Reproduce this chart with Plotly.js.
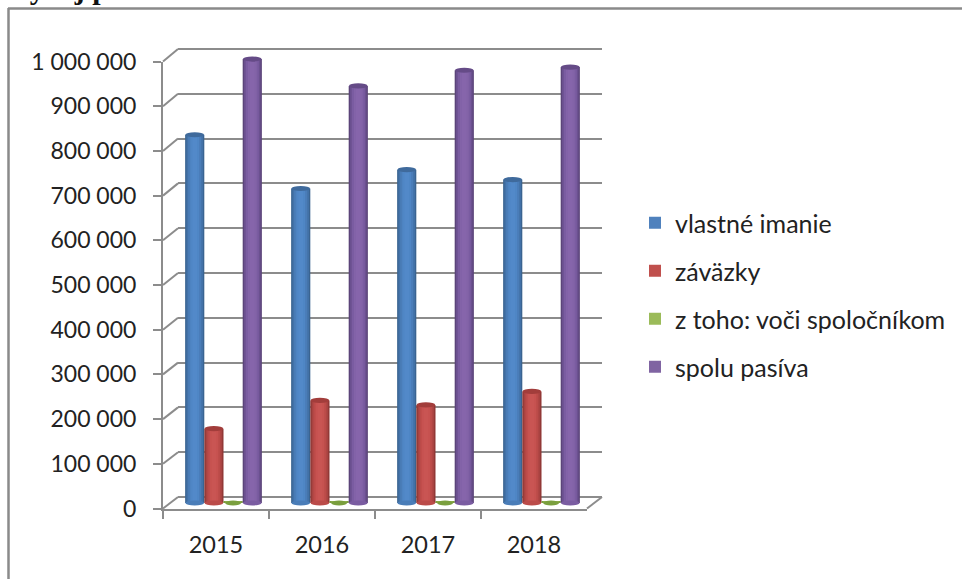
<!DOCTYPE html>
<html>
<head>
<meta charset="utf-8">
<script src="https://cdn.plot.ly/plotly-3.0.1.min.js"></script>
<style>html,body{margin:0;padding:0;background:#fff;overflow:hidden}#c{width:962px;height:579px}</style>
</head>
<body>
<div id="c"></div>
<script>
var years = ['2015','2016','2017','2018'];
var seriesNames = ['vlastné imanie','záväzky','z toho: voči spoločníkom','spolu pasíva'];
var vlastneImanie = [822000,702000,744000,722000];
var zavazky = [166000,229000,219000,249000];
var vociSpolocnikom = [3000,3000,3000,3000];
var spoluPasiva = [991000,931000,966000,973000];
var tickVals = [0,100000,200000,300000,400000,500000,600000,700000,800000,900000,1000000];
var tickText = ['0','100 000','200 000','300 000','400 000','500 000','600 000','700 000','800 000','900 000','1 000 000'];
var titleText = 'Vývoj pasív';

var W = 962, H = 579;
var GRID = '#8c8c8c';
var FONT = 'Lato, "Open Sans", sans-serif';
var TXT = '#222222';
// colour steps of each cylinder, outer edge to centre
var shades = [
  ['#3a6491','#4372a8','#4a7db8','#4f86c5','#5289c9'],
  ['#8f3735','#a84341','#bb4b49','#c65250','#c95553'],
  ['#7a9a3f','#8aaa48','#9abb59','#9dbe5c','#9dbe5c'],
  ['#5b4479','#6b5190','#7a5ca1','#8363a8','#8665ab']
];
var capColors = ['#3f6a9c','#a23d3b','#7a9f3e','#654b87'];
var legendColors = ['#4f81bd','#c0504d','#9bbb59','#8064a2'];
var layerWidths = [1, 0.86, 0.68, 0.46, 0.24];
var allSeries = [vlastneImanie, zavazky, vociSpolocnikom, spoluPasiva];

var barW = 0.181;           // category units
var pxY = 1000000/448;      // value per pixel on the bar axis
var traces = [];
var shapes = [];

function px(v){return v/W;}
function py(v){return 1-v/H;}

traces.push({type:'scatter',x:years,y:[null,null,null,null],xaxis:'x',yaxis:'y',showlegend:false,hoverinfo:'skip'});
traces.push({type:'scatter',x:[0],y:[null],xaxis:'x2',yaxis:'y2',showlegend:false,hoverinfo:'skip'});

allSeries.forEach(function(vals,s){
  var centre = (s-1.5)*barW;
  layerWidths.forEach(function(f,l){
    var w = barW*f;
    traces.push({
      type:'bar', x:[0,1,2,3], y:vals, xaxis:'x3', yaxis:'y3',
      width:[w,w,w,w], offset:[centre-w/2,centre-w/2,centre-w/2,centre-w/2],
      name:seriesNames[s], legendgroup:'g'+s, showlegend:false,
      marker:{color:shades[s][l],line:{width:0}}, hoverinfo: l===0?'y+name':'skip'
    });
  });
  // legend entry only: zero-size bar with the flat legend colour
  traces.push({type:'bar',x:[0],y:[0],xaxis:'x3',yaxis:'y3',width:[0.0001],name:seriesNames[s],
    legendgroup:'g'+s,showlegend:true,marker:{color:legendColors[s],line:{width:0}},hoverinfo:'skip'});
  vals.forEach(function(v,i){
    var cx = i+centre, rx = barW/2*0.97;
    var isThin = v < 20000;
    shapes.push({type:'circle',layer:'above',xref:'x3',yref:'y3',
      x0:cx-rx*(isThin?0.85:1),x1:cx+rx*(isThin?0.85:1),
      y0:(isThin?-2.6:-2.4)*pxY,y1:(isThin?2.6:2.4)*pxY,
      fillcolor:isThin?capColors[s]:shades[s][2],line:{width:0}});
    if(!isThin){
      shapes.push({type:'circle',layer:'above',xref:'x3',yref:'y3',
        x0:cx-rx,x1:cx+rx,y0:v-2.6*pxY,y1:v+2.6*pxY,
        fillcolor:capColors[s],line:{width:0}});
    }
  });
});

// side wall and floor connectors, from the front axis to the back wall
var frontL=163, frontR=587, backL=178, backR=602;
var front0=508.5, front1=61.5, back0=497, back1=49;
var backPad=0.01;  // margin of the back-wall axis so its first and last gridlines are kept
var backSpan=(back0-back1)*backPad;
tickVals.forEach(function(v){
  var t=v/1000000;
  shapes.push({type:'line',layer:'below',xref:'paper',yref:'paper',
    x0:px(frontL),x1:px(backL),
    y0:py(front0+(front1-front0)*t),y1:py(back0+(back1-back0)*t),
    line:{color:GRID,width:2}});
});
shapes.push({type:'line',layer:'below',xref:'paper',yref:'paper',
  x0:px(frontR),x1:px(backR),y0:py(front0),y1:py(back0),line:{color:GRID,width:2}});
// frame of the clipped scan
shapes.push({type:'line',layer:'below',xref:'paper',yref:'paper',x0:px(8),x1:1,y0:py(8.5),y1:py(8.5),line:{color:'#8a8a8a',width:2.5}});
shapes.push({type:'line',layer:'below',xref:'paper',yref:'paper',x0:px(8.5),x1:px(8.5),y0:py(8),y1:0,line:{color:'#8a8a8a',width:2.5}});

var barPadPx = 6;  // room under the zero line so the cylinders' round bases are not clipped
var layout = {
  width:W,height:H,margin:{l:0,r:0,t:0,b:0},paper_bgcolor:'#fff',plot_bgcolor:'rgba(0,0,0,0)',
  barmode:'overlay',showlegend:true,
  font:{family:FONT,color:TXT,size:22},
  // front axes: ticks and labels
  xaxis:{type:'category',categoryorder:'array',categoryarray:years,tickson:'boundaries',range:[-0.5,3.5],domain:[px(frontL),px(frontR)],
    anchor:'y',showgrid:false,zeroline:false,showline:true,linecolor:GRID,linewidth:2,
    ticks:'outside',ticklen:8,tickwidth:2,tickcolor:GRID,tickfont:{size:23.5,family:FONT,color:TXT},
    ticklabelstandoff:14,fixedrange:true},
  yaxis:{domain:[py(front0),py(front1)],range:[0,1000000],tickmode:'array',tickvals:tickVals,ticktext:tickText,
    anchor:'x',showgrid:false,zeroline:false,showline:true,linecolor:GRID,linewidth:2,
    ticks:'outside',ticklen:8,tickwidth:2,tickcolor:GRID,tickfont:{size:23,family:FONT,color:TXT},
    ticklabelstandoff:12,fixedrange:true},
  // back wall: gridlines only
  xaxis2:{domain:[px(backL),px(backR)],range:[-0.5,3.5],anchor:'y2',visible:false,fixedrange:true},
  yaxis2:{domain:[py(back0+backSpan),py(back1-backSpan)],range:[-1000000*backPad,1000000*(1+backPad)],anchor:'x2',tickmode:'array',tickvals:tickVals,
    showticklabels:false,ticks:'',showgrid:true,gridcolor:GRID,gridwidth:2,zeroline:false,showline:false,fixedrange:true},
  // mid depth: the cylinders
  xaxis3:{domain:[px(170.5),px(594.5)],range:[-0.5,3.5],anchor:'y3',visible:false,fixedrange:true},
  yaxis3:{domain:[py(503+barPadPx),py(55)],range:[-barPadPx*pxY,1000000],anchor:'x3',visible:false,fixedrange:true},
  legend:{x:px(635),y:py(200),xanchor:'left',yanchor:'top',bgcolor:'rgba(0,0,0,0)',borderwidth:0,
    font:{size:25,family:FONT,color:TXT},tracegroupgap:12.5,itemclick:false,itemdoubleclick:false,traceorder:'grouped'},
  annotations:[{text:'<b>'+titleText+'</b>',xref:'paper',yref:'paper',x:px(6),y:1,xanchor:'left',yanchor:'bottom',
    yshift:-7,showarrow:false,align:'left',font:{family:'"Liberation Serif", serif',size:30,color:'#111'}}],
  shapes:shapes
};
Plotly.newPlot('c',traces,layout,{displayModeBar:false,responsive:false});
</script>
</body>
</html>
